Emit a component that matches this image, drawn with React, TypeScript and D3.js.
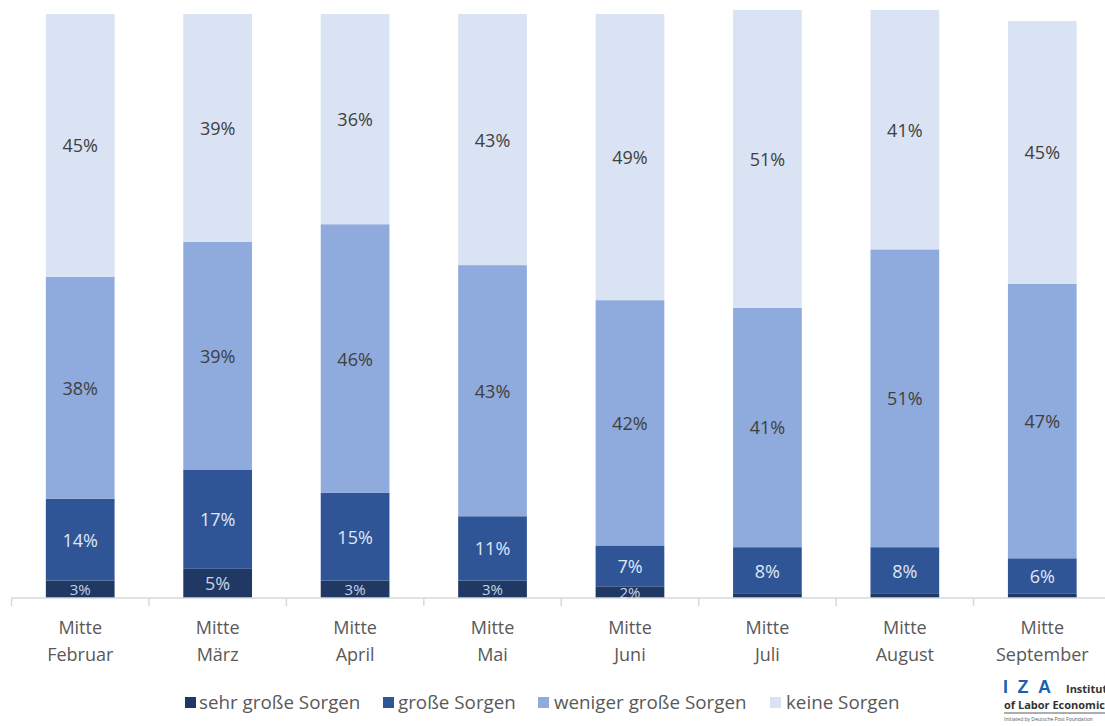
import React from "react";
import * as d3 from "d3";

const monthsTop = ["Mitte", "Mitte", "Mitte", "Mitte", "Mitte", "Mitte", "Mitte", "Mitte"];
const months = ["Februar", "März", "April", "Mai", "Juni", "Juli", "August", "September"];
const seriesNames = ["sehr große Sorgen", "große Sorgen", "weniger große Sorgen", "keine Sorgen"];
const sehrGross = [3, 5, 3, 3, 2, 0.7, 0.7, 0.8];
const gross = [14, 17, 15, 11, 7, 8, 8, 6];
const weniger = [38, 39, 46, 43, 42, 41, 51, 47];
const keine = [45, 39, 36, 43, 49, 51, 41, 45];
const colors = ["#1f3864", "#2f5597", "#8faadc", "#dae3f3"];
const labelColors = ["#c9d3e6", "#dfe7f5", "#404040", "#404040"];

const W = 1105;
const H = 726;
const FONT = "'Open Sans', 'Noto Sans', sans-serif";

export default function App() {
  const series = [sehrGross, gross, weniger, keine];
  const rows = months.map((m, i) => ({
    month: m,
    s0: series[0][i],
    s1: series[1][i],
    s2: series[2][i],
    s3: series[3][i],
  }));
  const stack = d3.stack<any>().keys(["s0", "s1", "s2", "s3"]);
  const stacked = stack(rows);

  const x = d3.scaleBand<string>().domain(months).range([11.5, 1111]).paddingInner(0.5).paddingOuter(0.25);
  const y = d3.scaleLinear().domain([0, 100]).range([598, 14]);
  const step = x.step();
  const baseY = y(0);

  const legendItems = [
    { name: seriesNames[0], sx: 185, tx: 199 },
    { name: seriesNames[1], sx: 383, tx: 398 },
    { name: seriesNames[2], sx: 538, tx: 554 },
    { name: seriesNames[3], sx: 770, tx: 786 },
  ];

  return (
    <svg width={W} height={H} style={{ position: "absolute", left: 0, top: 0, background: "#fff" }} fontFamily={FONT}>
      {stacked.map((layer, li) => (
        <g key={li}>
          {layer.map((d, i) => {
            const x0 = x(months[i])!;
            const y0 = y(d[1]);
            const y1 = y(d[0]);
            return <rect key={i} x={x0} y={y0} width={x.bandwidth()} height={Math.max(0, y1 - y0)} fill={colors[li]} />;
          })}
        </g>
      ))}
      {stacked.map((layer, li) => (
        <g key={"l" + li}>
          {layer.map((d, i) => {
            const v = series[li][i];
            if (v < 1.5) return null;
            const cx = x(months[i])! + x.bandwidth() / 2;
            const cy = (y(d[0]) + y(d[1])) / 2;
            const fs = li === 0 && v < 4 ? 15 : 18;
            return (
              <text key={i} x={cx} y={cy} textAnchor="middle" dominantBaseline="central" fontSize={fs} fill={labelColors[li]}>
                {Math.round(v)}%
              </text>
            );
          })}
        </g>
      ))}
      <line x1={11.5} x2={W} y1={baseY} y2={baseY} stroke="#d9d9d9" strokeWidth={1.5} />
      {d3.range(months.length + 1).map((k) => {
        const tx = 11.5 + k * step;
        return <line key={k} x1={tx} x2={tx} y1={baseY} y2={baseY + 8} stroke="#d9d9d9" strokeWidth={1.5} />;
      })}
      {months.map((m, i) => {
        const cx = x(m)! + x.bandwidth() / 2;
        return (
          <g key={m} fill="#595959" fontSize={18}>
            <text x={cx} y={634} textAnchor="middle">{monthsTop[i]}</text>
            <text x={cx} y={661} textAnchor="middle">{m}</text>
          </g>
        );
      })}
      {legendItems.map((it, i) => (
        <g key={i}>
          <rect x={it.sx} y={697} width={11} height={11} fill={colors[i]} />
          <text x={it.tx} y={709} fontSize={18.8} fill="#595959">{it.name}</text>
        </g>
      ))}
      <g>
        <text x={1003} y={693} fontSize={18} fontWeight="bold" fill="#1f5fb0" fontFamily="'Liberation Sans', Arial, sans-serif" letterSpacing={9.5}>IZA</text>
        <text x={1066} y={693} fontSize={11} fontWeight="bold" fill="#333">Institute</text>
        <text x={1004} y={709} fontSize={11} fontWeight="bold" fill="#333">of Labor Economics</text>
        <line x1={1004} x2={W} y1={713} y2={713} stroke="#333" strokeWidth={0.8} />
        <text x={1004} y={721} fontSize={5} fill="#555">Initiated by Deutsche Post Foundation</text>
      </g>
    </svg>
  );
}
